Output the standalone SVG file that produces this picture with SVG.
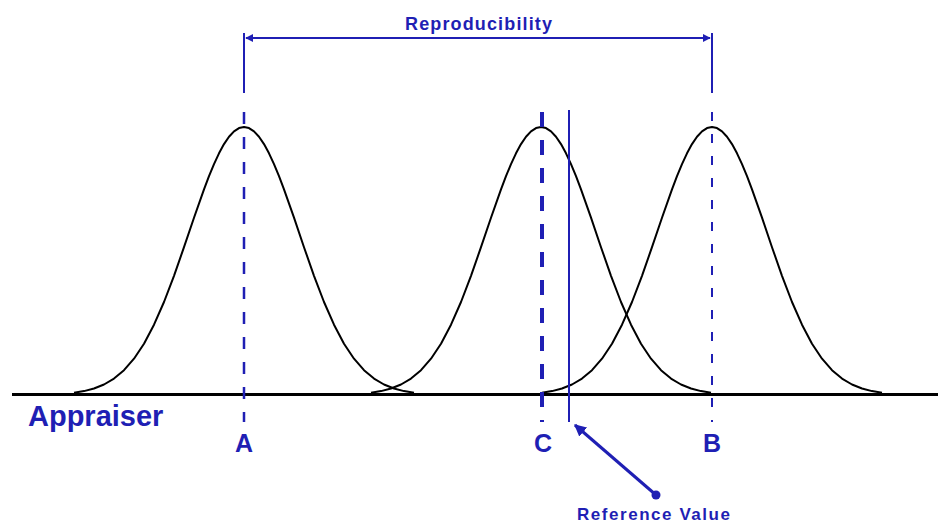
<svg xmlns="http://www.w3.org/2000/svg" width="938" height="523" viewBox="0 0 938 523">
<style>
.curve{fill:none;stroke:#000;stroke-width:2;stroke-linejoin:round}
.blue{stroke:#1f1fb4;fill:none}
.lbl{font-family:"Liberation Sans",Arial,sans-serif;font-weight:bold;fill:#1f1fb4}
</style>
<defs>
<path id="bell" d="M-170,392.7 L-160,391.1 L-150,388.5 L-140,384.5 L-130,378.6 L-120,370.2 L-110,358.7 L-100,343.7 L-90,324.7 L-80,302 L-70,275.8 L-60,247.2 L-50,217.7 L-40,189.3 L-35,176.1 L-30,164.1 L-25,153.3 L-20,144.1 L-15,136.8 L-10,131.4 L-5,128.1 L0,127 L5,128.1 L10,131.4 L15,136.8 L20,144.1 L25,153.3 L30,164.1 L35,176.1 L40,189.3 L50,217.7 L60,247.2 L70,275.8 L80,302 L90,324.7 L100,343.7 L110,358.7 L120,370.2 L130,378.6 L140,384.5 L150,388.5 L160,391.1 L170,392.7"/>
<marker id="ahead" viewBox="0 0 10 10" refX="9" refY="5" markerWidth="4" markerHeight="4" orient="auto-start-reverse" markerUnits="strokeWidth">
<path d="M0,0 L10,5 L0,10 z" fill="#1f1fb4"/>
</marker>
</defs>
<rect width="938" height="523" fill="#fff"/>
<g id="curve-A"><use href="#bell" class="curve" transform="translate(244,0)"/></g>
<g id="curve-C"><use href="#bell" class="curve" transform="translate(541,0)"/></g>
<g id="curve-B"><use href="#bell" class="curve" transform="translate(712,0)"/></g>
<g id="baseline"><line x1="12" y1="394.5" x2="938" y2="394.5" stroke="#000" stroke-width="3"/></g>
<g id="axis-A">
<line class="blue" x1="244" y1="112" x2="244" y2="422" stroke-width="2.5" stroke-dasharray="12 13"/>
<text class="lbl" x="244" y="452" font-size="25" text-anchor="middle">A</text>
</g>
<g id="axis-C">
<line class="blue" x1="542" y1="112" x2="542" y2="422" stroke-width="4" stroke-dasharray="15 13"/>
<text class="lbl" x="543" y="452" font-size="25" text-anchor="middle">C</text>
</g>
<g id="axis-B">
<line class="blue" x1="712" y1="112" x2="712" y2="422" stroke-width="2" stroke-dasharray="9 13"/>
<text class="lbl" x="712" y="452" font-size="25" text-anchor="middle">B</text>
</g>
<g id="appraiser"><text class="lbl" x="28" y="426" font-size="29">Appraiser</text></g>
<g id="reference-line"><line class="blue" x1="569" y1="110" x2="569" y2="422" stroke-width="2"/></g>
<g id="reproducibility-label"><text class="lbl" x="405" y="30" font-size="18" textLength="147" lengthAdjust="spacing">Reproducibility</text></g>
<g id="reference-label"><text class="lbl" x="577" y="520" font-size="17" textLength="153" lengthAdjust="spacing">Reference Value</text></g>
<g id="connectors">
<line class="blue" x1="244" y1="33" x2="244" y2="93" stroke-width="2"/>
<line class="blue" x1="712" y1="33" x2="712" y2="93" stroke-width="2"/>
<line class="blue" x1="246" y1="38" x2="710" y2="38" stroke-width="2" marker-start="url(#ahead)" marker-end="url(#ahead)"/>
<line class="blue" x1="656" y1="495" x2="575" y2="425" stroke-width="3" marker-end="url(#ahead)"/>
<circle cx="656" cy="495" r="4.5" fill="#1f1fb4"/>
</g>
</svg>
